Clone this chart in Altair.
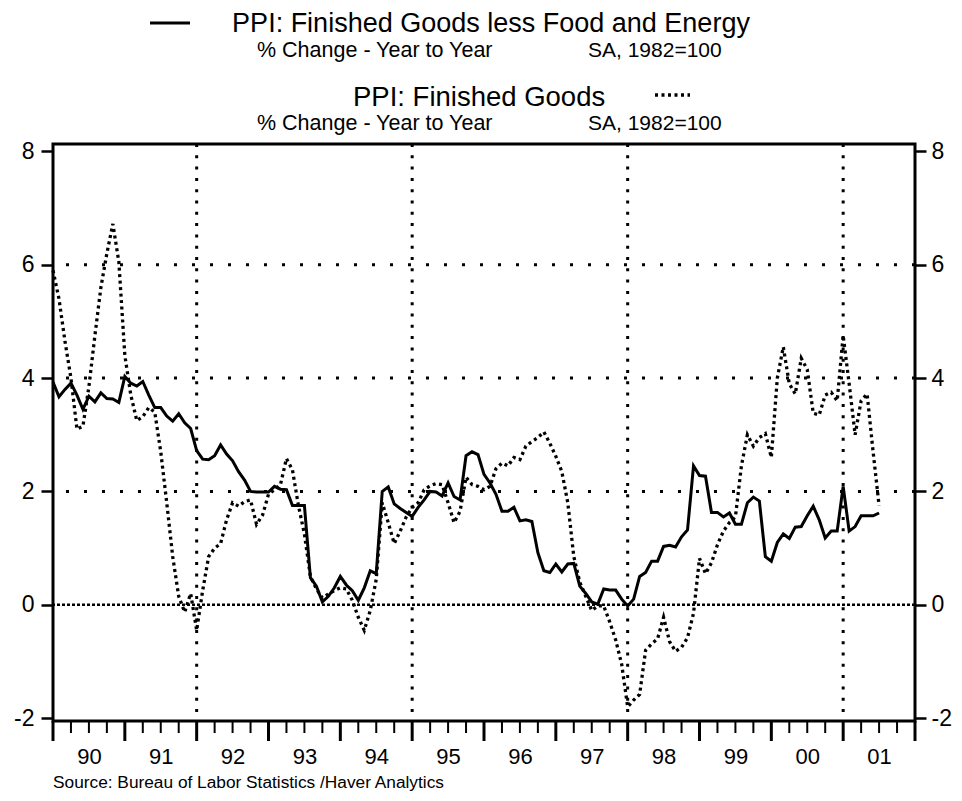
import altair as alt
import pandas as pd

# ---------------- data (monthly, Jan 1990 .. Jul 2001) ----------------
start_year = 1990
core = [
    3.93, 3.67, 3.80, 3.91, 3.70, 3.45, 3.68, 3.58, 3.74, 3.64, 3.63, 3.57,
    4.03, 3.91, 3.86, 3.94, 3.70, 3.48, 3.48, 3.33, 3.24, 3.37, 3.21, 3.11,
    2.72, 2.57, 2.56, 2.63, 2.82, 2.66, 2.54, 2.35, 2.20, 2.00, 1.99, 1.99,
    1.99, 2.09, 2.04, 2.03, 1.75, 1.75, 1.75, 0.48, 0.33, 0.05, 0.15, 0.30,
    0.50, 0.35, 0.25, 0.08, 0.30, 0.60, 0.55, 2.00, 2.08, 1.78, 1.70, 1.63,
    1.56, 1.72, 1.85, 2.00, 1.99, 1.92, 2.15, 1.91, 1.85, 2.63, 2.70, 2.65,
    2.30, 2.15, 1.95, 1.65, 1.65, 1.72, 1.48, 1.50, 1.47, 0.92, 0.60, 0.57,
    0.72, 0.58, 0.72, 0.73, 0.33, 0.20, 0.05, 0.01, 0.28, 0.26, 0.26, 0.10,
    -0.02, 0.10, 0.50, 0.57, 0.77, 0.77, 1.03, 1.05, 1.02, 1.20, 1.32, 2.45,
    2.28, 2.27, 1.63, 1.63, 1.55, 1.62, 1.42, 1.42, 1.80, 1.90, 1.83, 0.85,
    0.77, 1.10, 1.25, 1.17, 1.37, 1.38, 1.57, 1.74, 1.50, 1.18, 1.30, 1.30,
    2.09, 1.30, 1.38, 1.57, 1.57, 1.57, 1.62,
]
finished = [
    5.90, 5.40, 4.65, 4.00, 3.10, 3.15, 3.85, 4.75, 5.60, 6.20, 6.72, 6.05,
    4.40, 3.70, 3.25, 3.32, 3.48, 3.40, 2.70, 1.80, 0.85, 0.15, -0.13, 0.20,
    -0.45, 0.25, 0.85, 1.00, 1.08, 1.50, 1.80, 1.74, 1.82, 1.85, 1.42, 1.58,
    1.95, 2.03, 2.12, 2.58, 2.38, 1.75, 1.25, 0.50, 0.28, 0.12, 0.19, 0.25,
    0.30, 0.28, 0.08, -0.22, -0.45, -0.10, 0.45, 1.80, 1.45, 1.08, 1.30, 1.55,
    1.72, 1.80, 2.03, 2.10, 2.14, 2.12, 1.80, 1.45, 1.65, 2.25, 2.12, 2.09,
    2.03, 2.09, 2.40, 2.50, 2.45, 2.60, 2.56, 2.80, 2.88, 2.95, 3.05, 2.85,
    2.62, 2.35, 1.80, 0.85, 0.40, 0.15, -0.10, -0.02, -0.02, -0.30, -0.62, -1.05,
    -1.80, -1.68, -1.58, -0.80, -0.69, -0.60, -0.22, -0.65, -0.82, -0.75, -0.58, -0.15,
    0.82, 0.55, 0.74, 1.06, 1.30, 1.45, 1.55, 2.45, 3.00, 2.80, 2.95, 3.02,
    2.60, 4.00, 4.55, 3.90, 3.72, 4.35, 4.15, 3.38, 3.35, 3.70, 3.75, 3.60,
    4.75, 3.90, 3.00, 3.60, 3.72, 2.70, 1.75,
]
year_labels = ["90", "91", "92", "93", "94", "95", "96", "97", "98", "99", "00", "01"]
y_ticks = [-2, 0, 2, 4, 6, 8]
h_grid = [2, 4, 6]
v_grid = [1992, 1995, 1998, 2001]
major_ticks = list(range(1990, 2003))
minor_ticks = [y + q for y in range(1990, 2002) for q in (0.25, 0.5, 0.75)]

title_1 = "PPI: Finished Goods less Food and Energy"
title_2 = "PPI: Finished Goods"
sub_left = "% Change - Year to Year"
sub_right = "SA, 1982=100"
source = "Source:  Bureau of Labor Statistics /Haver Analytics"

# ---------------- layout ----------------
W, H = 862, 577
FONT = "Liberation Sans"

t = [start_year + i / 12 for i in range(len(core))]
df = pd.DataFrame({"t": t, "core": core, "finished": finished})

xs = alt.Scale(domain=[1990, 2002], nice=False, zero=False)
ys = alt.Scale(domain=[-2.05, 8.13], nice=False, zero=False)

label_arr = "[" + ",".join(f"'{s}'" for s in year_labels) + "]"
x_axis = alt.Axis(
    values=[1990.5 + k for k in range(len(year_labels))],
    labelExpr=f"{label_arr}[floor(datum.value) - 1990]",
    ticks=False, tickSize=0, domain=False, grid=False,
    labelFont=FONT, labelFontSize=22, labelColor="black",
    labelPadding=25, labelFlush=False, labelOverlap=False, title=None,
)


def y_axis(orient, tick, pad):
    return alt.Axis(
        values=y_ticks, orient=orient, tickSize=tick, tickWidth=2.5, tickColor="black",
        labelPadding=pad, labelFont=FONT, labelFontSize=23, labelColor="black",
        labelExpr="toString(datum.value)", domain=False, grid=False, title=None,
    )


hgrid = alt.Chart(pd.DataFrame({"v": h_grid})).mark_rule(
    color="black", strokeWidth=3, strokeDash=[3, 15]
).encode(y=alt.Y("v:Q", scale=ys, axis=y_axis("left", 12, 7)))

right_axis = alt.Chart(pd.DataFrame({"v": y_ticks})).mark_point(opacity=0).encode(
    y=alt.Y("v:Q", scale=ys, axis=y_axis("right", 11, 5))
)

vgrid = alt.Chart(pd.DataFrame({"yr": v_grid})).mark_rule(
    color="black", strokeWidth=3, strokeDash=[3, 8.3]
).encode(x=alt.X("yr:Q", scale=xs, axis=x_axis))

zero = alt.Chart(pd.DataFrame({"v": [0]})).mark_rule(
    color="black", strokeWidth=2.5, strokeDash=[3, 2]
).encode(y=alt.Y("v:Q", scale=ys, axis=None))

fg_line = alt.Chart(df).mark_line(
    color="black", strokeWidth=3.3, strokeDash=[3, 3.5]
).encode(
    x=alt.X("t:Q", scale=xs, axis=x_axis),
    y=alt.Y("finished:Q", scale=ys, axis=None),
)

core_line = alt.Chart(df).mark_line(color="black", strokeWidth=3).encode(
    x=alt.X("t:Q", scale=xs, axis=x_axis),
    y=alt.Y("core:Q", scale=ys, axis=None),
)

major = alt.Chart(pd.DataFrame({"q": major_ticks})).mark_rule(
    color="black", strokeWidth=3
).encode(x=alt.X("q:Q", scale=xs, axis=x_axis), y=alt.value(H), y2=alt.value(H + 20))

minor = alt.Chart(pd.DataFrame({"q": minor_ticks})).mark_rule(
    color="black", strokeWidth=2
).encode(x=alt.X("q:Q", scale=xs, axis=x_axis), y=alt.value(H), y2=alt.value(H + 12))

dummy = pd.DataFrame({"d": [0]})


def txt(s, x, y, size, align="left"):
    return alt.Chart(dummy).mark_text(
        text=s, font=FONT, fontSize=size, align=align, baseline="middle", color="black"
    ).encode(x=alt.value(x), y=alt.value(y))


texts = [
    txt(title_1, 438, -120, 27, "center"),
    txt(sub_left, 204, -93.5, 21.5),
    txt(sub_right, 535, -93.5, 21),
    txt(title_2, 300, -46, 27.5),
    txt(sub_left, 204, -20, 21.5),
    txt(sub_right, 535, -20, 21),
    txt(source, 0, 639, 17.3),
]

leg_solid = alt.Chart(dummy).mark_rule(color="black", strokeWidth=3).encode(
    x=alt.value(97), x2=alt.value(137), y=alt.value(-121)
)
leg_dot = alt.Chart(dummy).mark_rule(
    color="black", strokeWidth=3.3, strokeDash=[3, 3.5]
).encode(x=alt.value(602), x2=alt.value(637), y=alt.value(-49))

chart = (
    alt.layer(hgrid, right_axis, vgrid, zero, fg_line, core_line, major, minor,
              leg_solid, leg_dot, *texts)
    .resolve_scale(y="independent")
    .properties(
        width=W, height=H,
        padding={"left": 45, "top": 136, "right": 39, "bottom": 70},
        autosize=alt.AutoSizeParams(type="none"),
        background="white",
    )
    .configure_view(stroke="black", strokeWidth=3)
)

chart.save("out.html", embed_options={"renderer": "svg", "actions": False})
